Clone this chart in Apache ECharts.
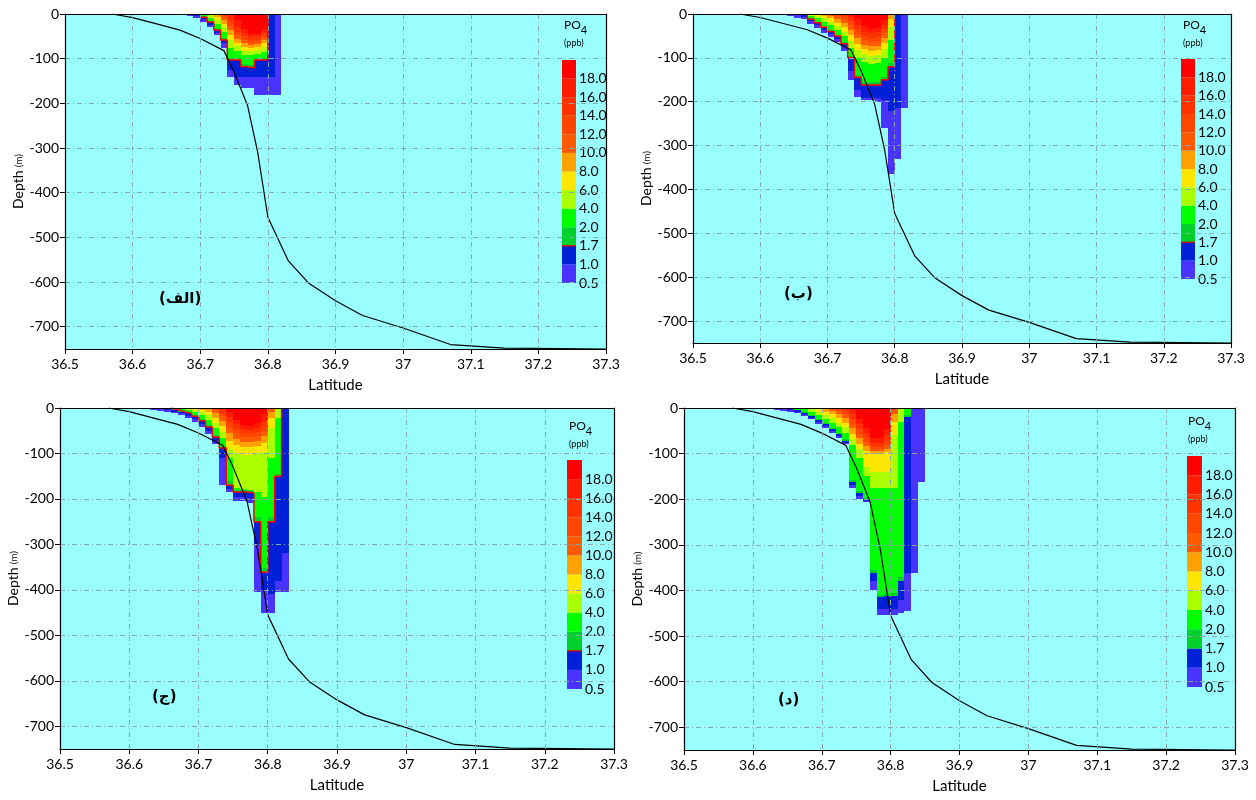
<!DOCTYPE html>
<html>
<head>
<meta charset="utf-8">
<script src="https://cdn.jsdelivr.net/npm/echarts@6/dist/echarts.min.js"></script>
<style>
  html, body { margin: 0; padding: 0; background: #fff; }
  #main { width: 1256px; height: 800px; }
</style>
</head>
<body>
<div id="main"></div>
<script>
// PO4 levels (lower bound of each colour band) and their colours
var levelLabels = ['0.5', '1.0', '1.7', '2.0', '4.0', '6.0', '8.0', '10.0', '12.0', '14.0', '16.0', '18.0'];
var levelColors = ['#4a32ff', '#0020d8', '#00d02a', '#00ff00', '#aaff00', '#ffe600', '#ffa200',
                   '#ff5a00', '#ff4600', '#ff3200', '#ff1c00', '#ff0000'];

// bathymetry (latitude, depth m)
var bathyLat   = [36.57, 36.60, 36.63, 36.67, 36.70, 36.735, 36.75, 36.77, 36.785, 36.80, 36.83, 36.86, 36.90, 36.94, 37.00, 37.07, 37.15, 37.30];
var bathyDepth = [0, -8, -20, -36, -55, -82, -130, -205, -310, -455, -552, -602, -642, -675, -703, -740, -748, -750];

// columns of 0.01 deg: [lat, depth reached by >=0.5, >=1.0, >=1.7, >=2, >=4, >=6, >=8, >=10, >=12, >=14, >=16, >=18]
var colsA = [
  [36.68, 5],
  [36.69, 9, 5],
  [36.70, 18, 12, 7, 5],
  [36.71, 30, 24, 18, 16, 8, 3],
  [36.72, 48, 42, 36, 33, 22, 14, 7],
  [36.73, 75, 65, 58, 54, 40, 30, 22, 14, 6],
  [36.74, 140, 125, 103, 98, 75, 58, 46, 36, 26, 16],
  [36.75, 160, 141, 103, 99, 82, 72, 64, 56, 48, 40, 30, 14],
  [36.76, 165, 141, 118, 112, 92, 82, 74, 66, 58, 50, 42, 34],
  [36.77, 165, 141, 121, 114, 92, 82, 76, 70, 64, 58, 52, 45],
  [36.78, 182, 141, 103, 99, 90, 80, 74, 68, 62, 56, 50, 44],
  [36.79, 182, 141, 103, 99, 84, 74, 66, 58, 52, 46, 40, 34],
  [36.80, 182, 141],
  [36.81, 182]
];
var colsB = [
  [36.64, 4],
  [36.65, 8],
  [36.66, 12, 7],
  [36.67, 23, 17, 12, 10, 4],
  [36.68, 32, 26, 20, 18, 10, 5],
  [36.69, 43, 36, 30, 28, 18, 10, 5],
  [36.70, 53, 46, 40, 37, 26, 18, 10, 4],
  [36.71, 64, 57, 50, 47, 36, 28, 20, 12, 5],
  [36.72, 85, 74, 68, 64, 50, 40, 30, 20, 12, 5],
  [36.73, 150, 130, 100, 95, 78, 62, 48, 36, 26, 16, 6],
  [36.74, 190, 174, 144, 138, 100, 82, 68, 55, 45, 35, 25, 12],
  [36.75, 197, 192, 162, 156, 110, 92, 80, 70, 60, 50, 40, 28],
  [36.76, 197, 192, 162, 156, 115, 96, 84, 74, 64, 54, 44, 34],
  [36.77, 200, 192, 162, 156, 112, 94, 82, 72, 62, 52, 42, 32],
  [36.78, 260, 195, 150, 144, 100, 80, 66, 54, 44, 34, 24, 14],
  [36.79, 364, 222, 120, 112, 60, 30, 12],
  [36.80, 330, 215],
  [36.81, 215]
];
var colsC = [
  [36.63, 5],
  [36.64, 7],
  [36.65, 9, 4],
  [36.66, 12, 8, 4, 3],
  [36.67, 16, 12, 8, 6, 2],
  [36.68, 22, 17, 12, 10, 5],
  [36.69, 30, 24, 18, 16, 9, 4],
  [36.70, 42, 35, 28, 25, 16, 9, 4],
  [36.71, 58, 50, 42, 38, 26, 16, 8, 3],
  [36.72, 80, 72, 64, 60, 44, 32, 22, 12, 5],
  [36.73, 170, 110, 88, 84, 66, 52, 40, 28, 18, 10],
  [36.74, 185, 178, 170, 160, 110, 90, 72, 56, 44, 32, 20, 8],
  [36.75, 205, 195, 185, 180, 175, 100, 82, 68, 56, 46, 36, 26],
  [36.76, 205, 195, 185, 180, 178, 103, 86, 74, 64, 54, 46, 38],
  [36.77, 210, 198, 187, 182, 180, 103, 86, 74, 64, 56, 48, 40],
  [36.78, 405, 300, 250, 240, 185, 100, 84, 72, 62, 52, 44, 34],
  [36.79, 450, 400, 361, 352, 195, 96, 78, 62, 50, 40, 28, 14],
  [36.80, 450, 410, 250, 240, 110, 44, 22, 8],
  [36.81, 405, 380, 150, 145, 22],
  [36.82, 405, 320]
];
var colsD = [
  [36.63, 4],
  [36.64, 6],
  [36.65, 9, 5],
  [36.66, 12, 8, 5, 4],
  [36.67, 18, 14, 10, 9, 3],
  [36.68, 25, 21, 17, 15, 8, 3],
  [36.69, 34, 30, 26, 24, 15, 8, 3],
  [36.70, 44, 40, 36, 33, 24, 15, 8, 3],
  [36.71, 55, 50, 46, 43, 32, 22, 14, 7],
  [36.72, 66, 62, 58, 55, 42, 32, 22, 13, 5],
  [36.73, 80, 76, 72, 68, 54, 42, 32, 22, 14, 6],
  [36.74, 175, 168, 163, 158, 82, 68, 56, 44, 34, 24, 12],
  [36.75, 200, 192, 186, 182, 110, 90, 78, 66, 56, 46, 36, 24],
  [36.76, 207, 204, 200, 198, 150, 130, 94, 84, 74, 64, 54, 44],
  [36.77, 400, 380, 362, 355, 176, 141, 100, 95, 90, 84, 76, 66],
  [36.78, 455, 440, 415, 410, 176, 141, 100, 95, 90, 84, 76, 66],
  [36.79, 455, 440, 412, 408, 176, 141, 97, 90, 82, 72, 60, 46],
  [36.80, 455, 440, 412, 405, 176, 60, 30, 14, 4],
  [36.81, 450, 420, 380, 370, 30],
  [36.82, 445, 361, 20, 15],
  [36.83, 361],
  [36.84, 163]
];
var colWidth = 0.01;

var panels = [
  { cols: colsA, tag: '(الف)', contour: true,
    grid: { left: 65, top: 14, width: 541, height: 335 },
    bar: { left: 562, top: 60, width: 14, height: 223 },
    title: [564, 19], tagPos: [159, 292] },
  { cols: colsB, tag: '(ب)', contour: true,
    grid: { left: 693, top: 14, width: 538, height: 329 },
    bar: { left: 1181, top: 59, width: 14, height: 220 },
    title: [1183, 19], tagPos: [784, 287] },
  { cols: colsC, tag: '(ج)', contour: true,
    grid: { left: 60, top: 408, width: 554, height: 341 },
    bar: { left: 567, top: 460, width: 15, height: 229 },
    title: [569, 420], tagPos: [152, 690] },
  { cols: colsD, tag: '(د)', contour: false,
    grid: { left: 684, top: 408, width: 551, height: 342 },
    bar: { left: 1187, top: 456, width: 15, height: 231 },
    title: [1188, 415], tagPos: [778, 693] }
];

var FONT = 'Lato';

function cellItems(cols) {
  var out = [];
  cols.forEach(function (c) {
    for (var k = 1; k < c.length; k++) out.push([c[0], c[0] + colWidth, -c[k], k - 1]);
  });
  out.sort(function (a, b) { return a[3] - b[3]; });
  return out;
}

function contourPoints(cols) {
  var pts = [];
  var withLevel = cols.filter(function (c) { return c.length > 3; });
  if (!withLevel.length) return pts;
  pts.push([withLevel[0][0], 0]);
  withLevel.forEach(function (c) {
    pts.push([c[0], -c[3]]);
    pts.push([c[0] + colWidth, -c[3]]);
  });
  pts.push([withLevel[withLevel.length - 1][0] + colWidth, 0]);
  return pts;
}

function renderCell(params, api) {
  var a = api.coord([api.value(0), 0]);
  var b = api.coord([api.value(1), api.value(2)]);
  var x0 = Math.round(a[0]), x1 = Math.round(b[0]);
  var y0 = Math.round(a[1]), y1 = Math.round(b[1]);
  return {
    type: 'rect',
    shape: { x: x0, y: y0, width: x1 - x0, height: y1 - y0 },
    style: { fill: levelColors[api.value(3)] },
    z2: api.value(3)
  };
}

function renderBand(params, api) {
  var a = api.coord([0, api.value(0) + 1]);
  var b = api.coord([1, api.value(0)]);
  var g = {
    type: 'group',
    children: [{
      type: 'rect',
      shape: { x: a[0], y: a[1], width: b[0] - a[0], height: b[1] - a[1] },
      style: { fill: levelColors[api.value(0)] }
    }]
  };
  if (api.value(1) && api.value(0) === 2) {
    g.children.push({
      type: 'line',
      shape: { x1: a[0], y1: b[1], x2: b[0], y2: b[1] },
      style: { stroke: '#d01010', lineWidth: 1.5 }
    });
  }
  return g;
}

var option = {
  animation: false,
  backgroundColor: '#ffffff',
  textStyle: { fontFamily: FONT },
  title: [],
  grid: [],
  xAxis: [],
  yAxis: [],
  series: []
};

var gridLine = { show: true, lineStyle: { color: '#86a9ab', width: 1, type: [5, 3, 1, 3] } };
var black = { color: '#000' };

panels.forEach(function (p, i) {
  var g = option.grid.length;
  option.grid.push(Object.assign({ show: true, backgroundColor: '#99ffff', borderWidth: 0 }, p.grid));
  // bottom x axis
  option.xAxis.push({
    type: 'value', gridIndex: g, min: 36.5, max: 37.3, interval: 0.1, z: 5,
    name: 'Latitude', nameLocation: 'middle', nameGap: 29,
    nameTextStyle: { fontSize: 15, color: '#000', fontFamily: FONT },
    axisLine: { show: true, onZero: false, lineStyle: { color: '#000', width: 1.2 } },
    axisTick: { show: true, length: 5, lineStyle: black },
    axisLabel: { fontSize: 14, color: '#000', margin: 8, fontFamily: FONT },
    splitLine: gridLine
  });
  // top frame
  option.xAxis.push({
    type: 'value', gridIndex: g, min: 36.5, max: 37.3, position: 'top', z: 5,
    axisLine: { show: true, onZero: false, lineStyle: { color: '#000', width: 1.2 } },
    axisTick: { show: false }, axisLabel: { show: false }, splitLine: { show: false }
  });
  // left y axis
  option.yAxis.push({
    type: 'value', gridIndex: g, min: -750, max: 0, splitNumber: 8, z: 5,
    name: '{a|Depth} {b|(m)}', nameLocation: 'middle', nameGap: 37,
    nameTextStyle: { color: '#000', rich: { a: { fontSize: 14, fontFamily: FONT }, b: { fontSize: 10, fontFamily: FONT } } },
    axisLine: { show: true, onZero: false, lineStyle: { color: '#000', width: 1.2 } },
    axisTick: { show: true, length: 5, lineStyle: black },
    axisLabel: {
      fontSize: 14, color: '#000', margin: 6, fontFamily: FONT, showMinLabel: false,
      formatter: function (v) { return v % 100 === 0 ? String(v) : ''; }
    },
    splitLine: gridLine
  });
  // right frame
  option.yAxis.push({
    type: 'value', gridIndex: g, min: -750, max: 0, position: 'right', z: 5,
    axisLine: { show: true, onZero: false, lineStyle: { color: '#000', width: 1.2 } },
    axisTick: { show: false }, axisLabel: { show: false }, splitLine: { show: false }
  });
  var xi = option.xAxis.length - 2, yi = option.yAxis.length - 2;

  option.series.push({
    type: 'custom', xAxisIndex: xi, yAxisIndex: yi, renderItem: renderCell,
    encode: { x: [0, 1], y: 2 }, data: cellItems(p.cols), silent: true, z: 2
  });
  if (p.contour) {
    option.series.push({
      type: 'line', xAxisIndex: xi, yAxisIndex: yi, data: contourPoints(p.cols),
      showSymbol: false, lineStyle: { color: '#ff0000', width: 1.5 }, silent: true, z: 3
    });
  }
  option.series.push({
    type: 'line', xAxisIndex: xi, yAxisIndex: yi,
    data: bathyLat.map(function (v, k) { return [v, bathyDepth[k]]; }),
    showSymbol: false, lineStyle: { color: '#000', width: 1.2 }, silent: true, z: 4
  });

  // colour bar
  var cg = option.grid.length;
  option.grid.push(Object.assign({ show: false }, p.bar));
  option.xAxis.push({ type: 'value', gridIndex: cg, min: 0, max: 1, show: false });
  option.yAxis.push({
    type: 'value', gridIndex: cg, min: 0, max: 12, interval: 1, position: 'right',
    axisLine: { show: false }, axisTick: { show: false }, splitLine: { show: false },
    axisLabel: {
      fontSize: 14, color: '#000', margin: 3, fontFamily: FONT,
      formatter: function (v) { return levelLabels[v] || ''; }
    }
  });
  option.series.push({
    type: 'custom', xAxisIndex: option.xAxis.length - 1, yAxisIndex: option.yAxis.length - 1,
    renderItem: renderBand, silent: true,
    data: levelLabels.map(function (l, k) { return [k, p.contour ? 1 : 0]; })
  });

  // PO4 (ppb) heading
  option.title.push({
    text: '{p|PO}{s|4}', subtext: '(ppb)', left: p.title[0], top: p.title[1], itemGap: 3, padding: 0,
    textStyle: { fontWeight: 'normal',
                 rich: { p: { fontSize: 12, fontWeight: 'normal', color: '#000', fontFamily: FONT, verticalAlign: 'top', lineHeight: 17 },
                         s: { fontSize: 11, fontWeight: 'normal', color: '#000', fontFamily: FONT, verticalAlign: 'bottom', lineHeight: 17, padding: [5, 0, 0, 0] } } },
    subtextStyle: { fontSize: 9, color: '#000', fontFamily: FONT }
  });
  // panel tag
  option.title.push({
    text: p.tag, left: p.tagPos[0], top: p.tagPos[1], padding: 0,
    textStyle: { fontSize: 15, fontWeight: 'bold', color: '#000', fontFamily: 'DejaVu Sans' }
  });
});

var chart = echarts.init(document.getElementById('main'), null, { renderer: 'canvas' });
chart.setOption(option);
</script>
</body>
</html>
